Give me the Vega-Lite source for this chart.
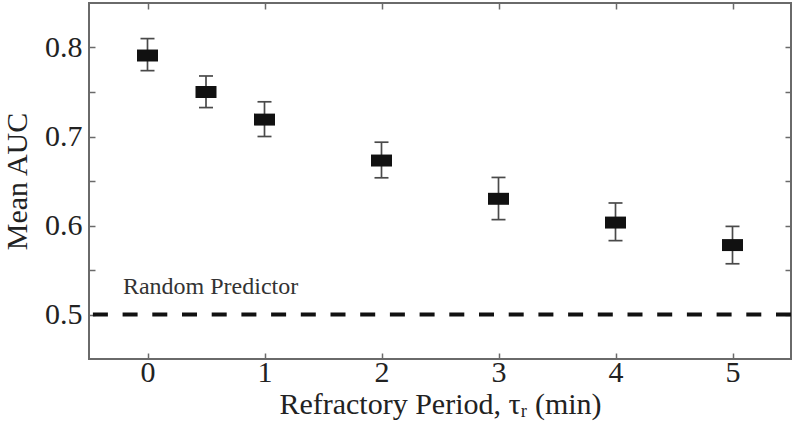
{
  "$schema": "https://vega.github.io/schema/vega-lite/v6.json",
  "autosize": "none",
  "width": 702,
  "height": 356,
  "padding": {"left": 89, "top": 3, "right": 9, "bottom": 70},
  "background": "white",
  "config": {
    "view": {"stroke": "#6a6a6a", "strokeWidth": 2},
    "font": "Liberation Serif, Times New Roman, DejaVu Serif, serif",
    "axis": {
      "grid": false,
      "domain": false,
      "tickColor": "#6a6a6a",
      "tickWidth": 1.5,
      "tickSize": -6,
      "labelFont": "Liberation Serif, Times New Roman, DejaVu Serif, serif",
      "labelFontSize": 30,
      "labelColor": "#222",
      "titleFont": "Liberation Serif, Times New Roman, DejaVu Serif, serif",
      "titleFontSize": 30,
      "titleFontWeight": "normal",
      "titleColor": "#222"
    }
  },
  "datasets": {
    "auc": [
      {"tau": 0, "mean": 0.791, "lo": 0.774, "hi": 0.810},
      {"tau": 0.5, "mean": 0.750, "lo": 0.7325, "hi": 0.768},
      {"tau": 1, "mean": 0.719, "lo": 0.700, "hi": 0.739},
      {"tau": 2, "mean": 0.673, "lo": 0.6536, "hi": 0.6936},
      {"tau": 3, "mean": 0.630, "lo": 0.6066, "hi": 0.654},
      {"tau": 4, "mean": 0.6033, "lo": 0.583, "hi": 0.6253},
      {"tau": 5, "mean": 0.578, "lo": 0.557, "hi": 0.599}
    ],
    "ref": [{"y": 0.5, "x": -0.21, "label": "Random Predictor", "ly": 0.5235}]
  },
  "resolve": {"axis": {"x": "independent", "y": "independent"}},
  "layer": [
    {
      "data": {"name": "auc"},
      "mark": {"type": "rule", "color": "#4a4a4a", "strokeWidth": 1.7},
      "encoding": {
        "x": {"field": "tau", "type": "quantitative",
          "scale": {"domain": [-0.5, 5.5], "nice": false, "zero": false},
          "axis": {"values": [0, 1, 2, 3, 4, 5], "orient": "bottom", "labelPadding": 4,
            "title": "Refractory Period, τᵣ (min)", "titlePadding": 2}},
        "y": {"field": "lo", "type": "quantitative",
          "scale": {"domain": [0.45, 0.85], "nice": false, "zero": false},
          "axis": {"values": [0.5, 0.55, 0.6, 0.65, 0.7, 0.75, 0.8], "orient": "left",
            "labelExpr": "round(datum.value*100) % 10 == 0 ? format(datum.value, '.1f') : ''",
            "labelPadding": 13, "title": "Mean AUC", "titlePadding": 12}},
        "y2": {"field": "hi"}
      }
    },
    {
      "data": {"name": "auc"},
      "mark": {"type": "tick", "orient": "horizontal", "color": "#4a4a4a", "size": 14, "thickness": 1.7, "opacity": 1},
      "encoding": {
        "x": {"field": "tau", "type": "quantitative", "scale": {"domain": [-0.5, 5.5], "nice": false, "zero": false}, "axis": null},
        "y": {"field": "lo", "type": "quantitative", "scale": {"domain": [0.45, 0.85], "nice": false, "zero": false}, "axis": null}
      }
    },
    {
      "data": {"name": "auc"},
      "mark": {"type": "tick", "orient": "horizontal", "color": "#4a4a4a", "size": 14, "thickness": 1.7, "opacity": 1},
      "encoding": {
        "x": {"field": "tau", "type": "quantitative", "scale": {"domain": [-0.5, 5.5], "nice": false, "zero": false}, "axis": null},
        "y": {"field": "hi", "type": "quantitative", "scale": {"domain": [0.45, 0.85], "nice": false, "zero": false}, "axis": null}
      }
    },
    {
      "data": {"name": "auc"},
      "mark": {"type": "point", "filled": true, "color": "#111", "opacity": 1, "size": 441,
        "shape": "M-1,-0.57L1,-0.57L1,0.57L-1,0.57Z"},
      "encoding": {
        "x": {"field": "tau", "type": "quantitative", "scale": {"domain": [-0.5, 5.5], "nice": false, "zero": false}, "axis": null},
        "y": {"field": "mean", "type": "quantitative", "scale": {"domain": [0.45, 0.85], "nice": false, "zero": false}, "axis": null}
      }
    },
    {
      "data": {"name": "ref"},
      "mark": {"type": "rule", "color": "#111", "strokeWidth": 4, "strokeDash": [15, 14.7]},
      "encoding": {
        "y": {"field": "y", "type": "quantitative", "scale": {"domain": [0.45, 0.85], "nice": false, "zero": false},
          "axis": {"values": [0.5, 0.55, 0.6, 0.65, 0.7, 0.75, 0.8], "orient": "right", "labels": false, "title": null}}
      }
    },
    {
      "data": {"name": "ref"},
      "mark": {"type": "text", "align": "left", "baseline": "alphabetic", "fontSize": 24, "color": "#333", "font": "Liberation Serif, Times New Roman, DejaVu Serif, serif"},
      "encoding": {
        "x": {"field": "x", "type": "quantitative", "scale": {"domain": [-0.5, 5.5], "nice": false, "zero": false},
          "axis": {"values": [0, 1, 2, 3, 4, 5], "orient": "top", "labels": false, "title": null}},
        "y": {"field": "ly", "type": "quantitative", "scale": {"domain": [0.45, 0.85], "nice": false, "zero": false}, "axis": null},
        "text": {"field": "label"}
      }
    }
  ]
}
